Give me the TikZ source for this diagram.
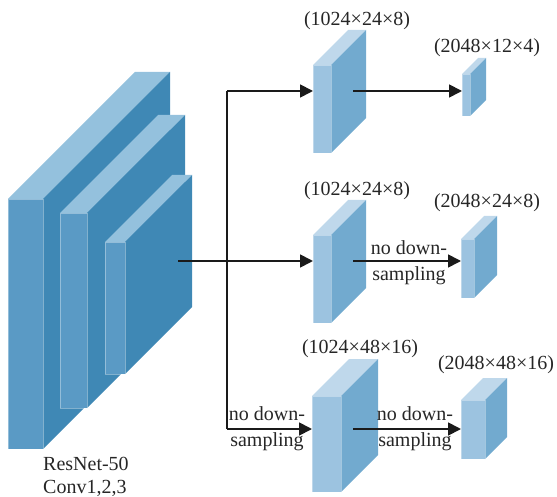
\documentclass[tikz,border=0pt]{standalone}
\usepackage{fontspec}
\setmainfont{Liberation Serif}
\usetikzlibrary{arrows.meta}
\definecolor{rfront}{HTML}{5A9AC5}
\definecolor{rtop}{HTML}{94C1DD}
\definecolor{rside}{HTML}{3F88B5}
\definecolor{mfront}{HTML}{9CC3E0}
\definecolor{mtop}{HTML}{BFD8EB}
\definecolor{mside}{HTML}{72AACF}
\definecolor{arrcol}{HTML}{1A1A1A}
% #1 name, #2 x, #3 y (front top-left), #4 width, #5 height, #6 depth, #7 colour prefix
\newcommand\mycuboid[7]{%
  \fill[#7top] (#2,#3) -- ++(#6,-#6) -- ++(#4,0) -- ++(-#6,#6) -- cycle;
  \fill[#7side] (#2+#4,#3) -- ++(#6,-#6) -- ++(0,#5) -- ++(-#6,#6) -- cycle;
  \node[frontface, fill=#7front, minimum width=#4pt, minimum height=#5pt, anchor=north west] (#1) at (#2,#3) {};
}
\begin{document}
\begin{tikzpicture}[x=1pt, y=-1pt,
  frontface/.style={draw=white, draw opacity=0.35, line width=0.5pt, inner sep=0pt, outer sep=0pt},
  arr/.style={draw=arrcol, line width=1.8pt, -{Triangle[length=13pt,width=13pt]}},
  ln/.style={draw=arrcol, line width=1.8pt},
  lbl/.style={font=\fontsize{20}{24}\selectfont, inner sep=0pt, text=black!85},
  note/.style={font=\fontsize{20}{26}\selectfont, inner sep=0pt, align=center, text=black!85}]
\useasboundingbox (0,0) rectangle (557,497);
% ResNet-50 blocks
\mycuboid{res1}{8}{199}{35}{250}{127}{r}
\mycuboid{res2}{60}{213}{27}{195}{98}{r}
\mycuboid{res3}{105}{242}{20}{132}{67}{r}
% middle blocks
\mycuboid{a1}{313}{65}{18}{88}{35}{m}
\mycuboid{a2}{313}{235}{18}{88}{35}{m}
\mycuboid{a3}{312}{396}{29}{96}{37}{m}
% right blocks
\mycuboid{b1}{462}{74}{8}{42}{16}{m}
\mycuboid{b2}{461}{239}{13}{59}{23}{m}
\mycuboid{b3}{461}{400}{24}{59}{22}{m}
% connector coordinates
\coordinate (resout) at (178,261);
\coordinate (split) at (227,261);
\coordinate (a1in) at (313,91);
\coordinate (a2in) at (313,261);
\coordinate (a3in) at (312,429);
\coordinate (a1out) at (353,91);
\coordinate (a2out) at (353,261);
\coordinate (a3out) at (353,429);
\coordinate (b1in) at (462,91);
\coordinate (b2in) at (461,261);
\coordinate (b3in) at (461,429);
% connectors
\draw[ln] (split |- a1in) -- (split |- a3in);
\draw[arr] (resout) -- (a2in);
\draw[arr] (split |- a1in) -- (a1in);
\draw[arr] (split |- a3in) -- (a3in);
\draw[arr] (a1out) -- (b1in);
\draw[arr] (a2out) -- (b2in);
\draw[arr] (a3out) -- (b3in);
% labels
\node[lbl] (la1) at (357,21) {(1024×24×8)};
\node[lbl] (lb1) at (487,48) {(2048×12×4)};
\node[lbl] (la2) at (357,191) {(1024×24×8)};
\node[lbl] (lb2) at (487,203) {(2048×24×8)};
\node[lbl] (la3) at (360,349) {(1024×48×16)};
\node[lbl] (lb3) at (496,365) {(2048×48×16)};
\node[note] (n2) at (409,263) {no down-\\sampling};
\node[note] (n3l) at (267,429) {no down-\\sampling};
\node[note] (n3r) at (415,429) {no down-\\sampling};
\node[note, align=left, anchor=base west, font=\fontsize{20}{23}\selectfont] (rlbl) at (43,493) {ResNet-50\\Conv1,2,3};
\end{tikzpicture}
\end{document}
